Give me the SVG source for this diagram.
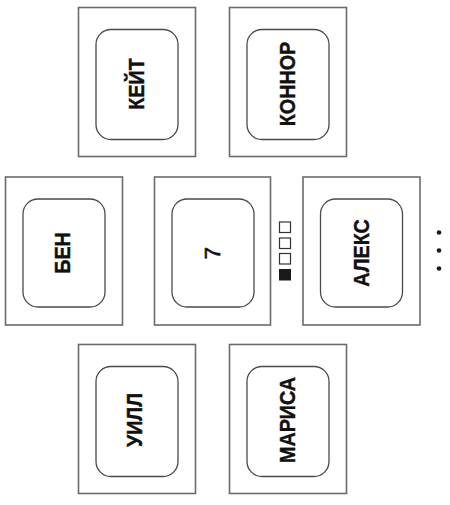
<svg xmlns="http://www.w3.org/2000/svg" width="450" height="505" viewBox="0 0 450 505">
<style>
.outer{fill:#fff;stroke:#6b6b6b;stroke-width:1.6}
.inner{fill:#fff;stroke:#4a4a4a;stroke-width:1.3}
.lbl{font-family:"Liberation Sans",Arial,sans-serif;font-weight:bold;font-size:21.5px;fill:#111;stroke:#111;stroke-width:0.4;text-anchor:middle;dominant-baseline:central}
.num{font-family:"Liberation Sans",Arial,sans-serif;font-size:22px;fill:#111;stroke:#111;stroke-width:0.6;text-anchor:middle;dominant-baseline:central}
.sq{fill:#fff;stroke:#333;stroke-width:1.2}
</style>
<rect width="450" height="505" fill="#fff"/>
<g id="node-keit">
<rect class="outer" x="78.5" y="7.5" width="117" height="149"/>
<rect class="inner" x="96" y="29.5" width="82" height="110" rx="15"/>
<text class="lbl" transform="translate(136.5,84) rotate(-90) scale(0.92,1)">КЕЙТ</text>
</g>
<g id="node-konnor">
<rect class="outer" x="229.5" y="7.5" width="117" height="149"/>
<rect class="inner" x="247" y="29.5" width="82" height="110" rx="15"/>
<text class="lbl" transform="translate(287.5,84) rotate(-90) scale(0.92,1)">КОННОР</text>
</g>
<g id="node-ben">
<rect class="outer" x="5.5" y="177" width="117" height="148"/>
<rect class="inner" x="23" y="199" width="82" height="108" rx="15"/>
<text class="lbl" transform="translate(62,253) rotate(-90) scale(0.92,1)">БЕН</text>
</g>
<g id="node-7">
<rect class="outer" x="154.5" y="177" width="116" height="148"/>
<rect class="inner" x="172" y="199" width="82" height="108" rx="15"/>
<text class="num" transform="translate(212,253) rotate(-90)">7</text>
</g>
<g id="node-aleks">
<rect class="outer" x="303" y="177" width="117" height="148"/>
<rect class="inner" x="320.5" y="199" width="82" height="108" rx="15"/>
<text class="lbl" transform="translate(361.5,253) rotate(-90) scale(0.92,1)">АЛЕКС</text>
</g>
<g id="node-uill">
<rect class="outer" x="78.5" y="344.5" width="117" height="149"/>
<rect class="inner" x="96" y="366.5" width="82" height="110" rx="15"/>
<text class="lbl" transform="translate(134.5,420) rotate(-90) scale(0.92,1)">УИЛЛ</text>
</g>
<g id="node-marisa">
<rect class="outer" x="229.5" y="344.5" width="117" height="149"/>
<rect class="inner" x="247" y="366.5" width="82" height="110" rx="15"/>
<text class="lbl" transform="translate(287.5,420) rotate(-90) scale(0.92,1)">МАРИСА</text>
</g>
<g id="indicator">
<rect class="sq" x="279.5" y="222" width="11" height="10.5"/>
<rect class="sq" x="279.5" y="238" width="11" height="10.5"/>
<rect class="sq" x="279.5" y="253.5" width="11" height="10.5"/>
<rect x="279" y="269" width="12" height="11.5" fill="#1a1a1a"/>
</g>
<g id="ellipsis" fill="#1a1a1a">
<circle cx="439" cy="232.5" r="2.3"/>
<circle cx="439" cy="250.5" r="2.3"/>
<circle cx="439" cy="268.5" r="2.3"/>
</g>
<g id="connectors"/>
</svg>
